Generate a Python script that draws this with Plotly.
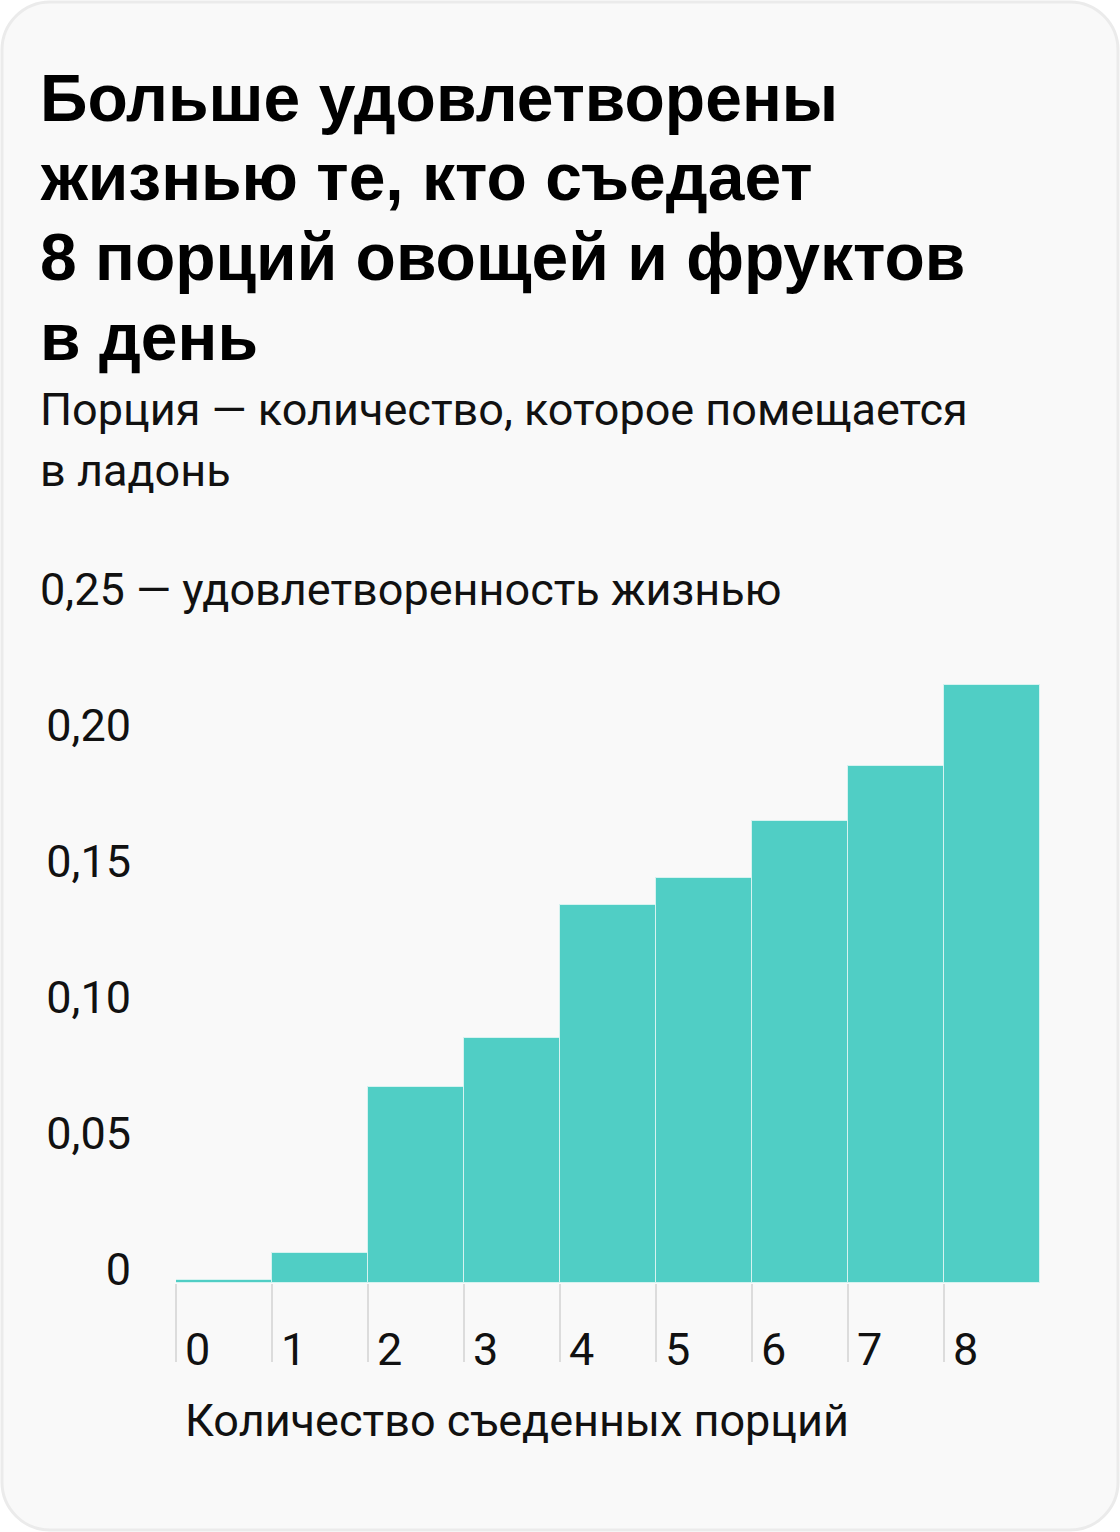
import plotly.graph_objects as go

# ---- data ----
portions = [0, 1, 2, 3, 4, 5, 6, 7, 8]
portion_labels = ["0", "1", "2", "3", "4", "5", "6", "7", "8"]
satisfaction = [0.001, 0.011, 0.072, 0.090, 0.139, 0.149, 0.170, 0.190, 0.220]
y_ticks = [0, 0.05, 0.10, 0.15, 0.20]
y_tick_labels = ["0", "0,05", "0,10", "0,15", "0,20"]
y_top_value = 0.25
y_top_label = "0,25 — удовлетворенность жизнью"
title_lines = ["Больше удовлетворены", "жизнью те, кто съедает",
               "8 порций овощей и фруктов", "в день"]
subtitle_lines = ["Порция — количество, которое помещается", "в ладонь"]
x_title = "Количество съеденных порций"

W, H = 1120, 1532
L, R, T, B = 176, 80, 603, 249
PW, PH = W - L - R, H - T - B


def px(x):
    return (x - L) / PW


def py(y):
    return (H - B - y) / PH


BODY = "Roboto, 'Liberation Sans', sans-serif"
HEAD = "'Liberation Sans', Arial, sans-serif"
FS = 45

fig = go.Figure()
fig.add_trace(go.Bar(
    x=portions, y=satisfaction, width=1,
    marker=dict(color="#50cec5", line=dict(color="#d6f3f0", width=1)),
    hoverinfo="skip",
))

# card with rounded corners
x0, x1, y0, y1, r = 2, 1118, 2, 1530, 48
k = 0.5523 * r


def P(x, y):
    return f"{px(x):.6f},{py(y):.6f}"


path = (f"M {P(x0 + r, y0)} L {P(x1 - r, y0)} "
        f"C {P(x1 - r + k, y0)} {P(x1, y0 + r - k)} {P(x1, y0 + r)} "
        f"L {P(x1, y1 - r)} "
        f"C {P(x1, y1 - r + k)} {P(x1 - r + k, y1)} {P(x1 - r, y1)} "
        f"L {P(x0 + r, y1)} "
        f"C {P(x0 + r - k, y1)} {P(x0, y1 - r + k)} {P(x0, y1 - r)} "
        f"L {P(x0, y0 + r)} "
        f"C {P(x0, y0 + r - k)} {P(x0 + r - k, y0)} {P(x0 + r, y0)} Z")
fig.add_shape(type="path", path=path, xref="paper", yref="paper",
              fillcolor="#f9f9f9", line=dict(color="#ebebeb", width=3),
              layer="below")

annotations = []
title_y = [98, 177, 257, 337]
for line, yy in zip(title_lines, title_y):
    annotations.append(dict(text=line, x=px(38), y=py(yy), xref="paper", yref="paper",
                            xanchor="left", yanchor="middle", showarrow=False,
                            font=dict(family=HEAD, size=66, color="#000000", weight=700)))
sub_y = [410, 470]
for line, yy in zip(subtitle_lines, sub_y):
    annotations.append(dict(text=line, x=px(38), y=py(yy), xref="paper", yref="paper",
                            xanchor="left", yanchor="middle", showarrow=False,
                            font=dict(family=BODY, size=FS, color="#111111")))
annotations.append(dict(text=y_top_label, x=px(38), y=y_top_value, xref="paper", yref="y",
                        xanchor="left", yanchor="middle", yshift=14, showarrow=False,
                        font=dict(family=BODY, size=FS, color="#111111")))
annotations.append(dict(text=x_title, x=px(183), y=py(1420), xref="paper", yref="paper",
                        xanchor="left", yanchor="middle", showarrow=False,
                        font=dict(family=BODY, size=FS, color="#111111")))

fig.update_layout(
    width=W, height=H,
    margin=dict(l=L, r=R, t=T, b=B),
    paper_bgcolor="#ffffff", plot_bgcolor="rgba(0,0,0,0)",
    showlegend=False, bargap=0,
    annotations=annotations,
    font=dict(family=BODY, color="#111111"),
)
fig.update_xaxes(
    range=[-0.5, 8.5], showgrid=False, zeroline=False, showline=False,
    tickvals=[p - 0.5 for p in portions], ticktext=portion_labels,
    ticks="outside", ticklen=78, tickwidth=2, tickcolor="#dcdcdc",
    ticklabelposition="outside right", ticklabelshift=8, ticklabelstandoff=27,
    tickfont=dict(family=BODY, size=FS, color="#111111"),
)
fig.update_yaxes(
    range=[0, y_top_value], showgrid=False, zeroline=False, showline=False,
    tickvals=y_ticks, ticktext=y_tick_labels, ticks="",
    ticklabelshift=-14, ticklabelstandoff=44,
    tickfont=dict(family=BODY, size=FS, color="#111111"),
)

fig.write_html("out.html")
